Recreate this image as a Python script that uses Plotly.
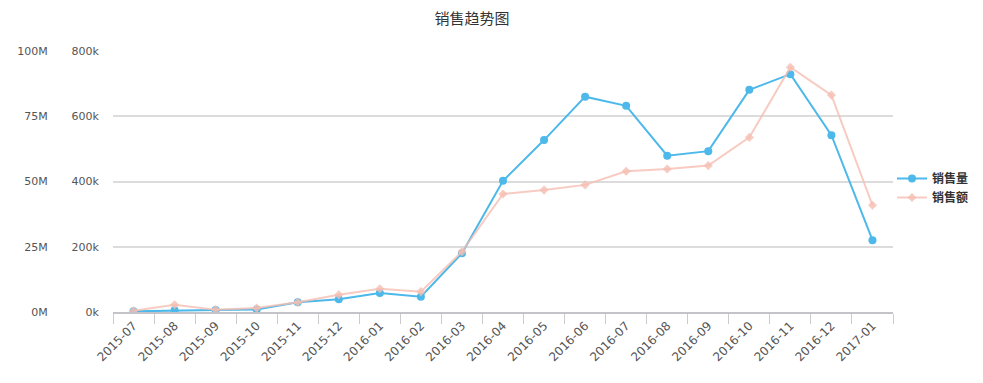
import plotly.graph_objects as go

months = ["2015-07", "2015-08", "2015-09", "2015-10", "2015-11", "2015-12",
          "2016-01", "2016-02", "2016-03", "2016-04", "2016-05", "2016-06",
          "2016-07", "2016-08", "2016-09", "2016-10", "2016-11", "2016-12", "2017-01"]
sales_qty = [2000, 5000, 6000, 8000, 30000, 39000, 58000, 47000, 180000, 402000,
             527000, 660000, 632000, 479000, 493000, 681000, 729000, 542000, 220000]
sales_amt = [0.5e6, 2.8e6, 0.9e6, 1.5e6, 3.7e6, 6.6e6, 8.9e6, 7.8e6, 23.1e6, 45.2e6,
             46.7e6, 48.7e6, 53.9e6, 54.8e6, 56.1e6, 66.9e6, 93.8e6, 83.1e6, 40.9e6]
qty_ticks = [0, 200000, 400000, 600000, 800000]
qty_labels = ["0k", "200k", "400k", "600k", "800k"]
amt_ticks = [0, 25e6, 50e6, 75e6, 100e6]
amt_labels = ["0M", "25M", "50M", "75M", "100M"]

# page body has an 8px margin, so the figure is 8px smaller and coordinates shifted
W, H = 975, 375
x0, x1 = 105, 885
top, bottom = 43, 304

fig = go.Figure()
fig.add_trace(go.Scatter(
    x=months, y=sales_qty, name="销售量", mode="lines+markers",
    line=dict(color="#4db8ea", width=2),
    marker=dict(symbol="circle", size=8, color="#4db8ea"),
    yaxis="y"))
fig.add_trace(go.Scatter(
    x=months, y=sales_amt, name="销售额", mode="lines+markers",
    line=dict(color="rgba(245,190,178,0.8)", width=2),
    marker=dict(symbol="diamond", size=7, color="rgba(245,190,178,0.8)"),
    yaxis="y2"))

xfont = dict(family="DejaVu Sans", size=12, color="#555")
yfont = dict(family="DejaVu Sans", size=11, color="#555")

fig.update_layout(
    width=W, height=H,
    margin=dict(l=0, r=0, t=top, b=H - bottom, autoexpand=False),
    paper_bgcolor="white", plot_bgcolor="white",
    title=dict(text="销售趋势图", x=464 / W, xanchor="center", y=1 - 11 / H, yanchor="middle",
               font=dict(family="Noto Sans CJK SC", size=15, color="#333")),
    xaxis=dict(domain=[x0 / W, x1 / W], type="category", tickangle=-45,
               tickson="boundaries", ticks="outside", ticklen=10, tickcolor="#ccc",
               showline=True, linecolor="#c4c4c8", linewidth=2, showgrid=False,
               tickfont=xfont, range=[-0.5, len(months) - 0.5], automargin=False),
    yaxis=dict(range=[0, 800000], tickvals=qty_ticks, ticktext=qty_labels,
               showgrid=True, gridcolor="#dcdcdc", gridwidth=1.5, zeroline=False,
               showline=False, ticks="outside", ticklen=11, tickcolor="rgba(0,0,0,0)",
               tickfont=yfont, automargin=False),
    yaxis2=dict(range=[0, 100e6], tickvals=amt_ticks, ticktext=amt_labels,
                overlaying="y", side="left", anchor="free", position=50 / W,
                showgrid=False, zeroline=False, showline=False,
                ticks="outside", ticklen=8, tickcolor="rgba(0,0,0,0)",
                tickfont=yfont, automargin=False),
    legend=dict(x=884 / W, y=(bottom - 180) / (bottom - top), xanchor="left", yanchor="middle",
                font=dict(family="Noto Sans CJK SC", size=12, color="#333", weight="bold"),
                itemwidth=30, tracegroupgap=0, bgcolor="rgba(0,0,0,0)"),
    showlegend=True,
)
fig.write_html("out.html")
